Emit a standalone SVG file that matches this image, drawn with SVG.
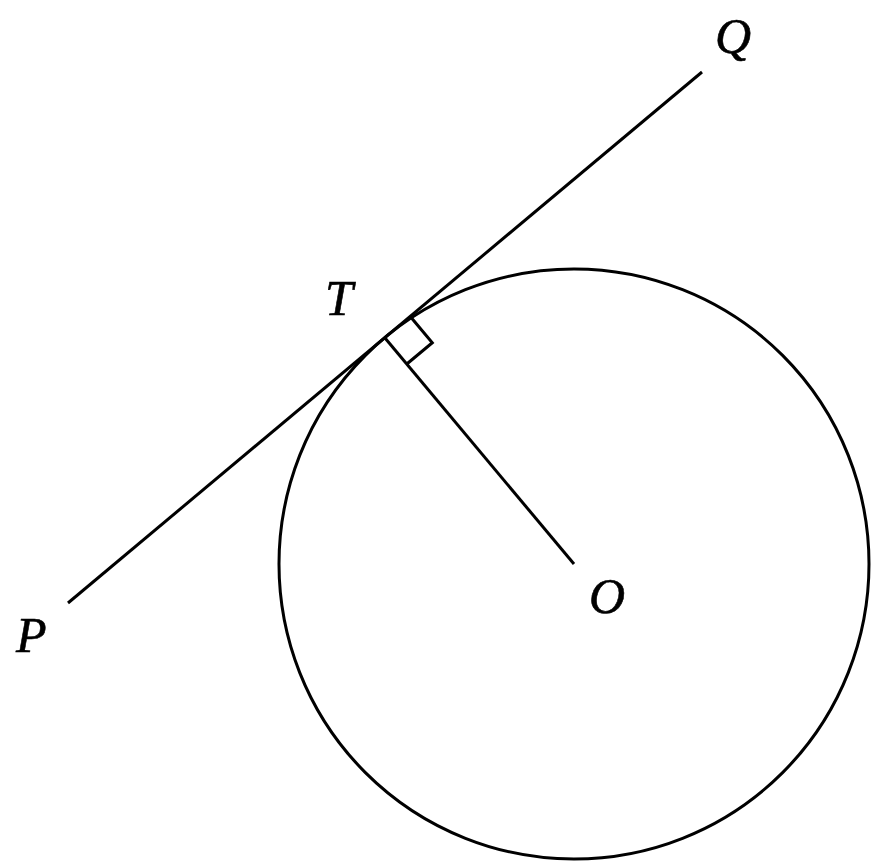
<svg xmlns="http://www.w3.org/2000/svg" width="874" height="864" viewBox="0 0 874 864">
<style>
.s{fill:none;stroke:#000;stroke-width:3}
.l{font-family:"Liberation Serif","Times New Roman",serif;font-style:italic;font-size:50px;fill:#000;stroke:#000;stroke-width:0.6}
</style>
<rect width="874" height="864" fill="#fff"/>
<g id="circle"><circle class="s" cx="574" cy="564" r="295"/></g>
<g id="connectors">
<line class="s" x1="68" y1="603" x2="702" y2="72"/>
<line class="s" x1="385" y1="338" x2="574" y2="564"/>
<polyline class="s" points="410.5,316.7 432.3,342.7 406.8,364"/>
</g>
<g id="labels">
<text class="l" x="715" y="53">Q</text>
<text class="l" x="325" y="315">T</text>
<text class="l" x="589" y="613">O</text>
<text class="l" x="16" y="652">P</text>
</g>
</svg>
